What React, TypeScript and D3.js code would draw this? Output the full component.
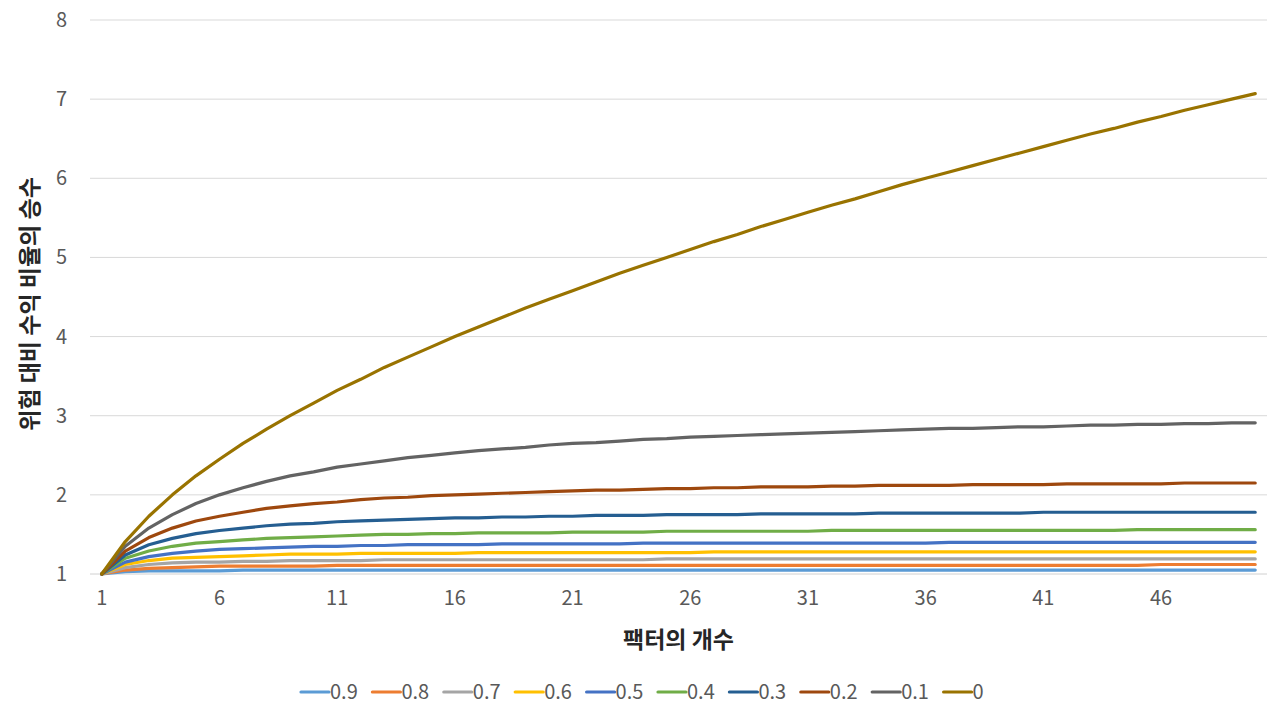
import * as d3 from 'd3';

// number of factors (x categories)
const factors: number[] = d3.range(1, 51);
const xTickLabels: number[] = [1, 6, 11, 16, 21, 26, 31, 36, 41, 46];
const yTicks: number[] = [1, 2, 3, 4, 5, 6, 7, 8];

// correlation label for each series, in legend order
const seriesNames: string[] = ['0.9', '0.8', '0.7', '0.6', '0.5', '0.4', '0.3', '0.2', '0.1', '0'];
const seriesColors: string[] = [
  '#5B9BD5', '#ED7D31', '#A5A5A5', '#FFC000', '#4472C4',
  '#70AD47', '#255E91', '#9E480E', '#636363', '#997300',
];

// values
const s09: number[] = [1.00, 1.03, 1.04, 1.04, 1.04, 1.04, 1.05, 1.05, 1.05, 1.05,
  1.05, 1.05, 1.05, 1.05, 1.05, 1.05, 1.05, 1.05, 1.05, 1.05,
  1.05, 1.05, 1.05, 1.05, 1.05, 1.05, 1.05, 1.05, 1.05, 1.05,
  1.05, 1.05, 1.05, 1.05, 1.05, 1.05, 1.05, 1.05, 1.05, 1.05,
  1.05, 1.05, 1.05, 1.05, 1.05, 1.05, 1.05, 1.05, 1.05, 1.05];
const s08: number[] = [1.00, 1.05, 1.07, 1.08, 1.09, 1.10, 1.10, 1.10, 1.10, 1.10,
  1.11, 1.11, 1.11, 1.11, 1.11, 1.11, 1.11, 1.11, 1.11, 1.11,
  1.11, 1.11, 1.11, 1.11, 1.11, 1.11, 1.11, 1.11, 1.11, 1.11,
  1.11, 1.11, 1.11, 1.11, 1.11, 1.11, 1.11, 1.11, 1.11, 1.11,
  1.11, 1.11, 1.11, 1.11, 1.11, 1.12, 1.12, 1.12, 1.12, 1.12];
const s07: number[] = [1.00, 1.08, 1.12, 1.14, 1.15, 1.15, 1.16, 1.16, 1.17, 1.17,
  1.17, 1.17, 1.18, 1.18, 1.18, 1.18, 1.18, 1.18, 1.18, 1.18,
  1.18, 1.18, 1.18, 1.18, 1.19, 1.19, 1.19, 1.19, 1.19, 1.19,
  1.19, 1.19, 1.19, 1.19, 1.19, 1.19, 1.19, 1.19, 1.19, 1.19,
  1.19, 1.19, 1.19, 1.19, 1.19, 1.19, 1.19, 1.19, 1.19, 1.19];
const s06: number[] = [1.00, 1.12, 1.17, 1.20, 1.21, 1.22, 1.23, 1.24, 1.25, 1.25,
  1.25, 1.26, 1.26, 1.26, 1.26, 1.26, 1.27, 1.27, 1.27, 1.27,
  1.27, 1.27, 1.27, 1.27, 1.27, 1.27, 1.28, 1.28, 1.28, 1.28,
  1.28, 1.28, 1.28, 1.28, 1.28, 1.28, 1.28, 1.28, 1.28, 1.28,
  1.28, 1.28, 1.28, 1.28, 1.28, 1.28, 1.28, 1.28, 1.28, 1.28];
const s05: number[] = [1.00, 1.15, 1.22, 1.26, 1.29, 1.31, 1.32, 1.33, 1.34, 1.35,
  1.35, 1.36, 1.36, 1.37, 1.37, 1.37, 1.37, 1.38, 1.38, 1.38,
  1.38, 1.38, 1.38, 1.39, 1.39, 1.39, 1.39, 1.39, 1.39, 1.39,
  1.39, 1.39, 1.39, 1.39, 1.39, 1.39, 1.40, 1.40, 1.40, 1.40,
  1.40, 1.40, 1.40, 1.40, 1.40, 1.40, 1.40, 1.40, 1.40, 1.40];
const s04: number[] = [1.00, 1.20, 1.29, 1.35, 1.39, 1.41, 1.43, 1.45, 1.46, 1.47,
  1.48, 1.49, 1.50, 1.50, 1.51, 1.51, 1.52, 1.52, 1.52, 1.52,
  1.53, 1.53, 1.53, 1.53, 1.54, 1.54, 1.54, 1.54, 1.54, 1.54,
  1.54, 1.55, 1.55, 1.55, 1.55, 1.55, 1.55, 1.55, 1.55, 1.55,
  1.55, 1.55, 1.55, 1.55, 1.56, 1.56, 1.56, 1.56, 1.56, 1.56];
const s03: number[] = [1.00, 1.24, 1.37, 1.45, 1.51, 1.55, 1.58, 1.61, 1.63, 1.64,
  1.66, 1.67, 1.68, 1.69, 1.70, 1.71, 1.71, 1.72, 1.72, 1.73,
  1.73, 1.74, 1.74, 1.74, 1.75, 1.75, 1.75, 1.75, 1.76, 1.76,
  1.76, 1.76, 1.76, 1.77, 1.77, 1.77, 1.77, 1.77, 1.77, 1.77,
  1.78, 1.78, 1.78, 1.78, 1.78, 1.78, 1.78, 1.78, 1.78, 1.78];
const s02: number[] = [1.00, 1.29, 1.46, 1.58, 1.67, 1.73, 1.78, 1.83, 1.86, 1.89,
  1.91, 1.94, 1.96, 1.97, 1.99, 2.00, 2.01, 2.02, 2.03, 2.04,
  2.05, 2.06, 2.06, 2.07, 2.08, 2.08, 2.09, 2.09, 2.10, 2.10,
  2.10, 2.11, 2.11, 2.12, 2.12, 2.12, 2.12, 2.13, 2.13, 2.13,
  2.13, 2.14, 2.14, 2.14, 2.14, 2.14, 2.15, 2.15, 2.15, 2.15];
const s01: number[] = [1.00, 1.35, 1.58, 1.75, 1.89, 2.00, 2.09, 2.17, 2.24, 2.29,
  2.35, 2.39, 2.43, 2.47, 2.50, 2.53, 2.56, 2.58, 2.60, 2.63,
  2.65, 2.66, 2.68, 2.70, 2.71, 2.73, 2.74, 2.75, 2.76, 2.77,
  2.78, 2.79, 2.80, 2.81, 2.82, 2.83, 2.84, 2.84, 2.85, 2.86,
  2.86, 2.87, 2.88, 2.88, 2.89, 2.89, 2.90, 2.90, 2.91, 2.91];
const s00: number[] = [1.00, 1.41, 1.73, 2.00, 2.24, 2.45, 2.65, 2.83, 3.00, 3.16,
  3.32, 3.46, 3.61, 3.74, 3.87, 4.00, 4.12, 4.24, 4.36, 4.47,
  4.58, 4.69, 4.80, 4.90, 5.00, 5.10, 5.20, 5.29, 5.39, 5.48,
  5.57, 5.66, 5.74, 5.83, 5.92, 6.00, 6.08, 6.16, 6.24, 6.32,
  6.40, 6.48, 6.56, 6.63, 6.71, 6.78, 6.86, 6.93, 7.00, 7.07];

const seriesValues: number[][] = [s09, s08, s07, s06, s05, s04, s03, s02, s01, s00];

const FONT = '"Noto Sans CJK KR", "Noto Sans", sans-serif';

export default function App() {
  const width = 1280;
  const height = 717;
  const plot = { left: 90, right: 1267, top: 20, bottom: 574 };

  const x = d3.scaleBand<number>()
    .domain(factors)
    .range([plot.left, plot.right]);
  const cx = (c: number) => (x(c) ?? 0) + x.bandwidth() / 2;

  const y = d3.scaleLinear()
    .domain([1, 8])
    .range([plot.bottom, plot.top]);

  const line = d3.line<number>()
    .x((_, i) => cx(factors[i]))
    .y((d) => y(d));

  const legendStart = 301;
  const legendStep = 71.4;
  const legendY = 692;

  return (
    <div style={{ position: 'absolute', left: 0, top: 0 }}>
      <svg width={width} height={height} style={{ display: 'block', background: '#fff' }}>
        {/* gridlines */}
        {yTicks.map((t) => (
          <line key={t} x1={plot.left} x2={plot.right} y1={y(t)} y2={y(t)}
            stroke={t === 1 ? '#d0d0d0' : '#d9d9d9'} strokeWidth={1} />
        ))}

        {/* y tick labels */}
        {yTicks.map((t) => (
          <text key={t} x={67} y={y(t)} dy="0.35em" textAnchor="end"
            fontFamily={FONT} fontSize={20} fill="#595959">{t}</text>
        ))}

        {/* x tick labels */}
        {xTickLabels.map((t) => (
          <text key={t} x={cx(t)} y={598} dy="0.35em" textAnchor="middle"
            fontFamily={FONT} fontSize={20} fill="#595959">{t}</text>
        ))}

        {/* series lines */}
        {seriesValues.map((vals, i) => (
          <path key={seriesNames[i]} d={line(vals) ?? ''} fill="none"
            stroke={seriesColors[i]} strokeWidth={3.2}
            strokeLinejoin="round" strokeLinecap="round" />
        ))}

        {/* axis titles */}
        <text x={(plot.left + plot.right) / 2} y={640} dy="0.35em" textAnchor="middle"
          fontFamily={FONT} fontSize={23} fontWeight="bold" fill="#262626">팩터의 개수</text>
        <text transform={`translate(30,304) rotate(-90)`}
          dy="0.35em" textAnchor="middle"
          fontFamily={FONT} fontSize={23} fontWeight="bold" fill="#262626">위험 대비 수익 비율의 승수</text>

        {/* legend */}
        {seriesNames.map((name, i) => {
          const lx = legendStart + i * legendStep;
          return (
            <g key={name}>
              <line x1={lx} x2={lx + 28} y1={legendY} y2={legendY}
                stroke={seriesColors[i]} strokeWidth={3.2} strokeLinecap="round" />
              <text x={lx + 29} y={legendY} dy="0.35em" fontFamily={FONT}
                fontSize={20} fill="#595959">{name}</text>
            </g>
          );
        })}
      </svg>
    </div>
  );
}
